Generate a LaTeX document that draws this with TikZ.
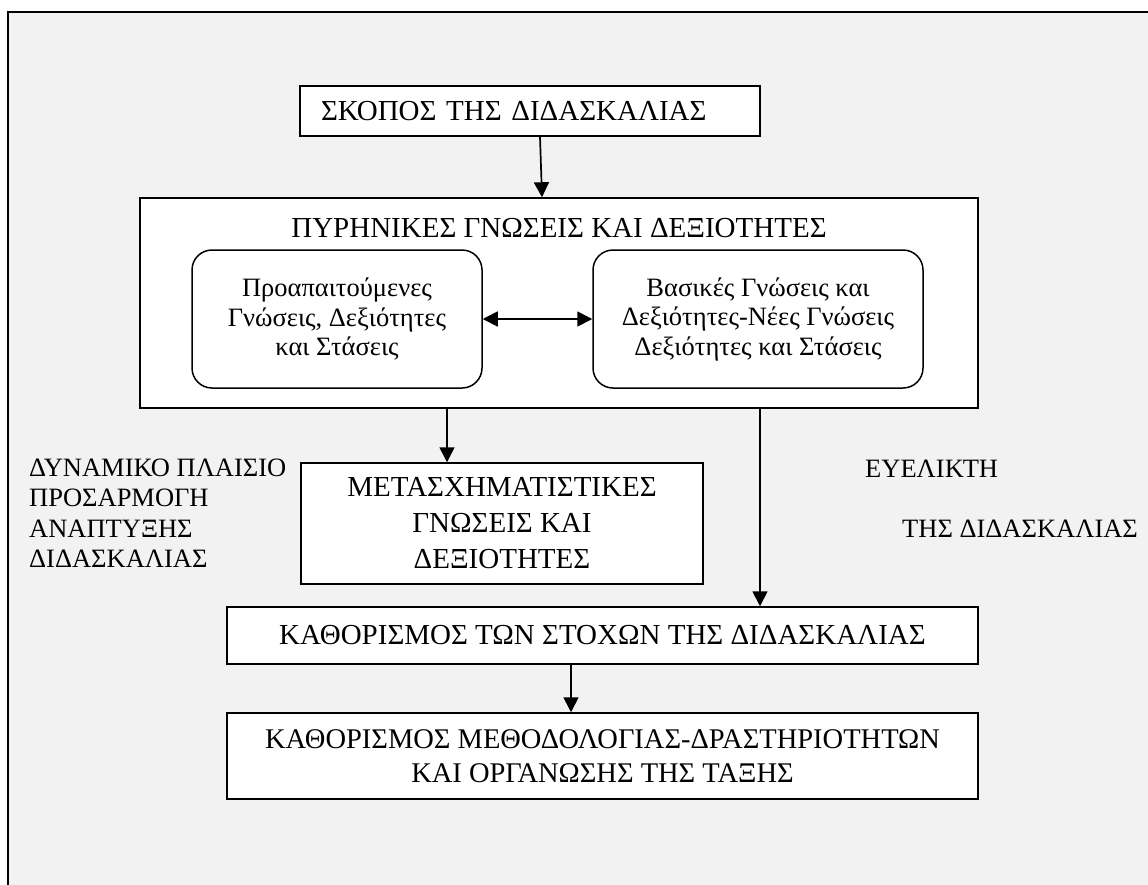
\documentclass[tikz,border=0pt]{standalone}
\usepackage{fontspec}
\setmainfont{Liberation Serif}
\usetikzlibrary{arrows.meta}
\definecolor{bggrey}{HTML}{F2F2F2}
\begin{document}
\begin{tikzpicture}[x=1pt,y=-1pt,
  box/.style={draw=black, fill=white, line width=1.5pt, inner sep=0pt, align=center},
  rbox/.style={box, rounded corners=20pt},
  bigfont/.style={font=\fontsize{29}{36}\selectfont},
  midfont/.style={font=\fontsize{28.5}{34}\selectfont},
  sidefont/.style={font=\fontsize{26.5}{30}\selectfont},
  smallfont/.style={font=\fontsize{26.5}{29.5}\selectfont},
  arr/.style={line width=1.7pt, -{Triangle[length=15pt,width=15pt]}},
  darr/.style={line width=1.7pt, {Triangle[length=15pt,width=15pt]}-{Triangle[length=15pt,width=15pt]}}]
\useasboundingbox (0,0) rectangle (1148,884);
% outer frame
\fill[bggrey] (8,12) rectangle (1160,900);
\draw[line width=1.8pt] (1160,12) -- (8,12) -- (8,900);

% boxes
\node[box, bigfont, align=left, text width=418pt, inner xsep=21pt, minimum height=50pt] (skopos) at (530,111) {ΣΚΟΠΟΣ ΤΗΣ ΔΙΔΑΣΚΑΛΙΑΣ};
\node[box, minimum width=838pt, minimum height=210pt] (core) at (559,303) {};
\node[bigfont, anchor=base, inner sep=0pt] (coretitle) at (559,237) {ΠΥΡΗΝΙΚΕΣ ΓΝΩΣΕΙΣ ΚΑΙ ΔΕΞΙΟΤΗΤΕΣ};
\node[rbox, smallfont, minimum width=290pt, minimum height=138pt] (pre) at (337,319) {Προαπαιτούμενες\\Γνώσεις, Δεξιότητες\\και Στάσεις};
\node[rbox, smallfont, minimum width=330pt, minimum height=138pt] (basic) at (758,319) {Βασικές Γνώσεις και\\Δεξιότητες-Νέες Γνώσεις\\Δεξιότητες και Στάσεις};
\node[box, bigfont, minimum width=402pt, minimum height=121pt] (trans) at (502,523.5) {ΜΕΤΑΣΧΗΜΑΤΙΣΤΙΚΕΣ\\ΓΝΩΣΕΙΣ ΚΑΙ\\ΔΕΞΙΟΤΗΤΕΣ};
\node[box, bigfont, minimum width=751pt, minimum height=57pt] (goals) at (602.5,635.5) {ΚΑΘΟΡΙΣΜΟΣ ΤΩΝ ΣΤΟΧΩΝ ΤΗΣ ΔΙΔΑΣΚΑΛΙΑΣ};
\node[box, midfont, minimum width=751pt, minimum height=86pt] (method) at (602.5,756) {ΚΑΘΟΡΙΣΜΟΣ ΜΕΘΟΔΟΛΟΓΙΑΣ-ΔΡΑΣΤΗΡΙΟΤΗΤΩΝ\\ΚΑΙ ΟΡΓΑΝΩΣΗΣ ΤΗΣ ΤΑΞΗΣ};

% side labels
\node[sidefont, anchor=base west, inner sep=0pt] (l1) at (29,476) {ΔΥΝΑΜΙΚΟ ΠΛΑΙΣΙΟ};
\node[sidefont, anchor=base west, inner sep=0pt] (l2) at (29,506.5) {ΠΡΟΣΑΡΜΟΓΗ};
\node[sidefont, anchor=base west, inner sep=0pt] (l3) at (29,537) {ΑΝΑΠΤΥΞΗΣ};
\node[sidefont, anchor=base west, inner sep=0pt] (l4) at (29,567.5) {ΔΙΔΑΣΚΑΛΙΑΣ};
\node[sidefont, anchor=base west, inner sep=0pt] (r1) at (865,477) {ΕΥΕΛΙΚΤΗ};
\node[sidefont, anchor=base west, inner sep=0pt] (r2) at (902,537) {ΤΗΣ ΔΙΔΑΣΚΑΛΙΑΣ};

% connector x positions
\coordinate (xa) at (540,0);
\coordinate (xb) at (542,0);
\coordinate (xc) at (447,0);
\coordinate (xd) at (760,0);
\coordinate (xe) at (571,0);

\draw[arr] (skopos.south -| xa) -- (core.north -| xb);
\draw[darr] (pre.east) -- (basic.west);
\draw[arr] (core.south -| xc) -- (trans.north -| xc);
\draw[arr] (core.south -| xd) -- (goals.north -| xd);
\draw[arr] (goals.south -| xe) -- (method.north -| xe);
\end{tikzpicture}
\end{document}
